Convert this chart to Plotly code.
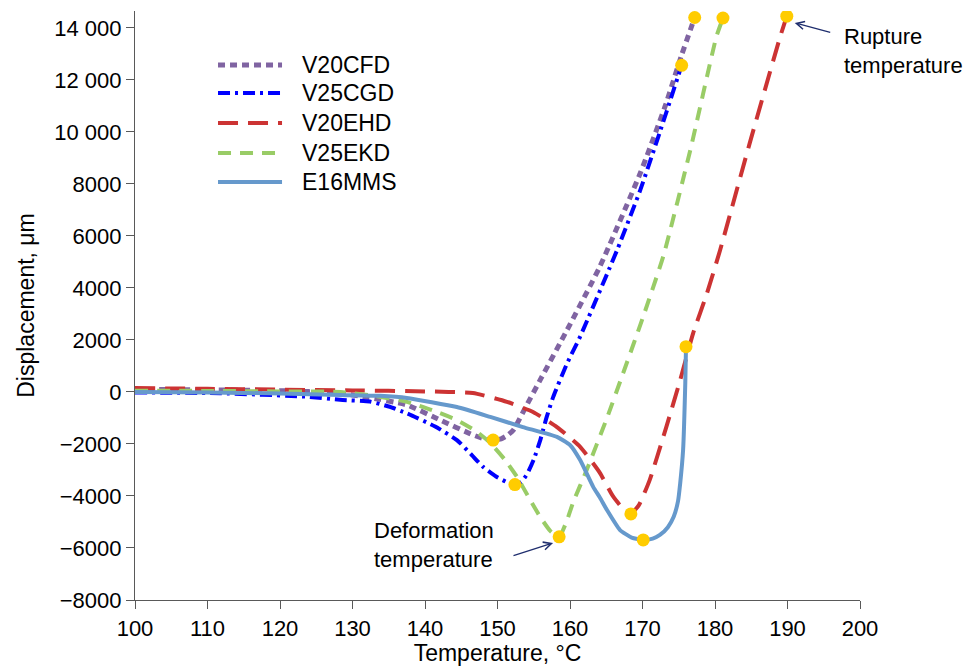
import plotly.graph_objects as go

# ---------------- data ----------------
series_names = ["V20CFD", "V25CGD", "V20EHD", "V25EKD", "E16MMS"]

v20cfd_x = [100, 110, 120, 128, 132, 137.5, 142.1, 146.6, 148.2, 149.4, 150.5, 151.4, 152.2, 154.0, 156.0, 159.6, 164.1, 169.7, 173.1, 175.4, 177.2]
v20cfd_y = [100, 80, 50, -40, -200, -500, -1080, -1650, -1800, -1850, -1800, -1660, -1460, -520, 520, 2385, 4810, 8420, 10970, 12960, 14400]

v25cgd_x = [100, 111.7, 123.7, 128.3, 132.4, 135, 137.5, 141.4, 144.4, 146.3, 148.0, 149.8, 151.3, 152.4, 153.3, 154.1, 155.0, 155.9, 156.8, 157.7, 159.6, 161.4, 166.5, 169.7, 172.4, 175.4]
v25cgd_y = [-20, -50, -180, -300, -370, -560, -820, -1330, -1850, -2380, -2880, -3250, -3470, -3560, -3450, -3150, -2600, -1850, -950, -180, 1100, 2130, 5460, 7770, 10000, 12560]

v20ehd_x = [100, 110, 120, 130, 140, 146.6, 151.3, 154.9, 158.2, 161.4, 164.1, 165.9, 167.2, 168.4, 169.5, 171.0, 173.3, 175.2, 177.0, 178.9, 180.7, 184.8, 189.0, 189.9]
v20ehd_y = [150, 120, 90, 60, 20, -40, -380, -770, -1350, -2110, -3100, -4000, -4450, -4680, -4350, -3380, -1330, 460, 2270, 3800, 5450, 9580, 13670, 14450]

v25ekd_x = [100, 110, 120, 128.3, 133, 137.5, 141, 144.4, 147, 149.0, 151, 152.7, 154.3, 155.9, 157.3, 158.5, 159.5, 160.4, 162.3, 165.1, 167.3, 170.1, 172.9, 176.6, 180.2, 181.1]
v25ekd_y = [50, 40, 20, 0, -150, -380, -700, -1080, -1500, -1960, -2600, -3270, -4050, -4810, -5350, -5570, -5000, -4270, -3000, -1000, 700, 2900, 5250, 9310, 13670, 14380]

e16mms_x = [100, 110, 120, 128.3, 133.8, 137.5, 144.4, 149.0, 153.5, 158.2, 160.0, 161.4, 163.2, 164.1, 165.1, 166.9, 168.5, 170.1, 171.4, 172.4, 173.5, 174.3, 174.9, 175.2, 175.6, 175.9, 176.0]
e16mms_y = [0, -20, -60, -115, -150, -230, -580, -960, -1350, -1730, -2040, -2620, -3650, -4050, -4540, -5310, -5600, -5690, -5640, -5500, -5200, -4800, -4200, -3510, -2230, 330, 1740]

# characteristic points (deformation and rupture temperatures)
deform_x = [149.4, 152.4, 158.5, 168.4, 170.1]
deform_y = [-1850, -3560, -5570, -4690, -5690]
rupture_x = [177.2, 175.4, 181.1, 189.9, 176.0]
rupture_y = [14400, 12560, 14380, 14450, 1740]

x_ticks = [100, 110, 120, 130, 140, 150, 160, 170, 180, 190, 200]
y_ticks = [-8000, -6000, -4000, -2000, 0, 2000, 4000, 6000, 8000, 10000, 12000, 14000]
y_tick_text = ["\u22128000", "\u22126000", "\u22124000", "\u22122000", "0", "2000", "4000",
               "6000", "8000", "10 000", "12 000", "14 000"]

# ---------------- styles ----------------
FONT = "Liberation Sans, Arial, sans-serif"
colors = ["#8064A2", "#0000FF", "#CC3333", "#99CC66", "#6699CC"]
dashes = ["7px,5px", "12px,5px,3px,5px", "20px,10px", "13px,9px", "solid"]
widths = [5, 4, 4, 4, 4]
xs = [v20cfd_x, v25cgd_x, v20ehd_x, v25ekd_x, e16mms_x]
ys = [v20cfd_y, v25cgd_y, v20ehd_y, v25ekd_y, e16mms_y]

fig = go.Figure()
for name, x, y, c, d, w in zip(series_names, xs, ys, colors, dashes, widths):
    fig.add_trace(go.Scatter(x=x, y=y, mode="lines", name=name,
                             line=dict(color=c, dash=d, width=w, shape="spline", smoothing=0.5),
                             showlegend=False))

fig.add_trace(go.Scatter(x=deform_x + rupture_x, y=deform_y + rupture_y, mode="markers",
                         marker=dict(color="#FFCC00", size=13), showlegend=False,
                         name="points"))

# custom legend (long line samples)
leg_x0, leg_x1, leg_tx = 0.1145, 0.2028, 0.2276
leg_rows = [0.9083, 0.8608, 0.8098, 0.7589, 0.7097]
for name, c, d, w, yy in zip(series_names, colors, dashes, widths, leg_rows):
    fig.add_shape(type="line", xref="paper", yref="paper", x0=leg_x0, x1=leg_x1, y0=yy, y1=yy,
                  line=dict(color=c, dash=d, width=w))
    fig.add_annotation(xref="paper", yref="paper", x=leg_tx, y=yy, text=name, showarrow=False,
                       xanchor="left", yanchor="middle", font=dict(size=23, color="black", family=FONT))

# annotations
fig.add_annotation(x=197.5, y=13115, xref="x", yref="y", text="Rupture<br>temperature",
                   showarrow=False, xanchor="left", yanchor="middle", align="left",
                   font=dict(size=22, color="black", family=FONT))
fig.add_annotation(x=191.0, y=14192, ax=196.1, ay=13808, xref="x", yref="y", axref="x", ayref="y",
                   text="", showarrow=True, arrowhead=5, arrowsize=1.2, arrowwidth=1.3,
                   arrowcolor="#1F2E6E")
fig.add_annotation(x=132.7, y=-5885, xref="x", yref="y", text="Deformation<br>temperature",
                   showarrow=False, xanchor="left", yanchor="middle", align="left",
                   font=dict(size=22, color="black", family=FONT))
fig.add_annotation(x=157.66, y=-5808, ax=152.0, ay=-6308, xref="x", yref="y", axref="x", ayref="y",
                   text="", showarrow=True, arrowhead=5, arrowsize=1.2, arrowwidth=1.3,
                   arrowcolor="#1F2E6E")

axis_common = dict(showgrid=False, zeroline=False, showline=True, linecolor="#595959", linewidth=1.3,
                   ticks="outside", ticklen=8, tickcolor="#595959", tickwidth=1.3, automargin=False,
                   tickfont=dict(size=22, color="black", family=FONT))

# the page body has an 8px margin, so the figure is sized to fill the window exactly
fig.update_layout(
    width=964, height=658,
    margin=dict(l=127, r=112, t=3, b=66),
    paper_bgcolor="white", plot_bgcolor="white",
    font=dict(family=FONT, color="black"),
    xaxis=dict(range=[100, 200], tickvals=x_ticks,
               title=dict(text="Temperature, \u00b0C", font=dict(size=23, color="black", family=FONT), standoff=0),
               **axis_common),
    yaxis=dict(range=[-8000, 14650], tickvals=y_ticks, ticktext=y_tick_text,
               title=dict(text="Displacement, \u03bcm", font=dict(size=23, color="black", family=FONT), standoff=13),
               **axis_common),
)

fig.write_html("out.html")
